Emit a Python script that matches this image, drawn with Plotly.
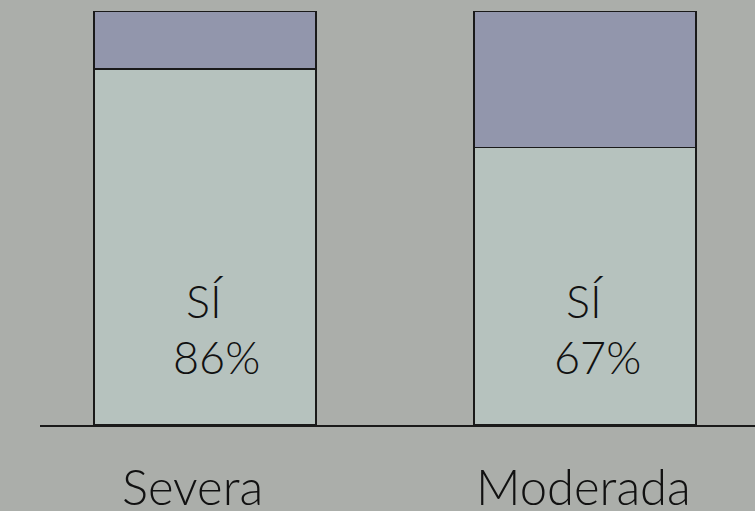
import plotly.graph_objects as go

categories = ["Severa", "Moderada"]
si_values = [86, 67]
no_values = [14, 33]
si_label = "SÍ"

bg = "#abaeaa"
FONT = "Lato, 'Liberation Sans', sans-serif"
fig = go.Figure()
fig.add_trace(go.Bar(x=categories, y=si_values, width=0.584,
                     marker=dict(color="#b6c2be", line=dict(color="#1a1a1a", width=1.5)),
                     hoverinfo="skip"))
fig.add_trace(go.Bar(x=categories, y=no_values, width=0.584,
                     marker=dict(color="#9296ac", line=dict(color="#1a1a1a", width=1.5)),
                     hoverinfo="skip"))

font_main = dict(family=FONT, size=45, color="#111111", weight=300)
font_cat = dict(family=FONT, size=49, color="#111111", weight=300)
cat_shift = [-12, -2]
for i, (cat, v) in enumerate(zip(categories, si_values)):
    fig.add_annotation(x=cat, y=0, yref="y", text=si_label, showarrow=False,
                       font=font_main, xshift=0, yshift=124, yanchor="middle")
    fig.add_annotation(x=cat, y=0, yref="y", text=f"{v}%", showarrow=False,
                       font=font_main, xshift=12, yshift=68, yanchor="middle")
    fig.add_annotation(x=cat, y=0, yref="y", text=cat, showarrow=False,
                       font=font_cat, xshift=cat_shift[i], yshift=-61, yanchor="middle")

fig.update_layout(
    barmode="stack", width=755, height=511,
    margin=dict(l=40, r=0, t=11, b=86),
    paper_bgcolor=bg, plot_bgcolor=bg, showlegend=False,
    xaxis=dict(range=[-0.434, 1.447], showline=True, linecolor="#1a1a1a", linewidth=1.5,
               showgrid=False, zeroline=False, ticks="", showticklabels=False),
    yaxis=dict(range=[0, 100], visible=False, showgrid=False, zeroline=False),
)
fig.write_html("out.html", config={"displayModeBar": False},
               post_script="document.body.style.margin='0';document.body.style.padding='0';")
